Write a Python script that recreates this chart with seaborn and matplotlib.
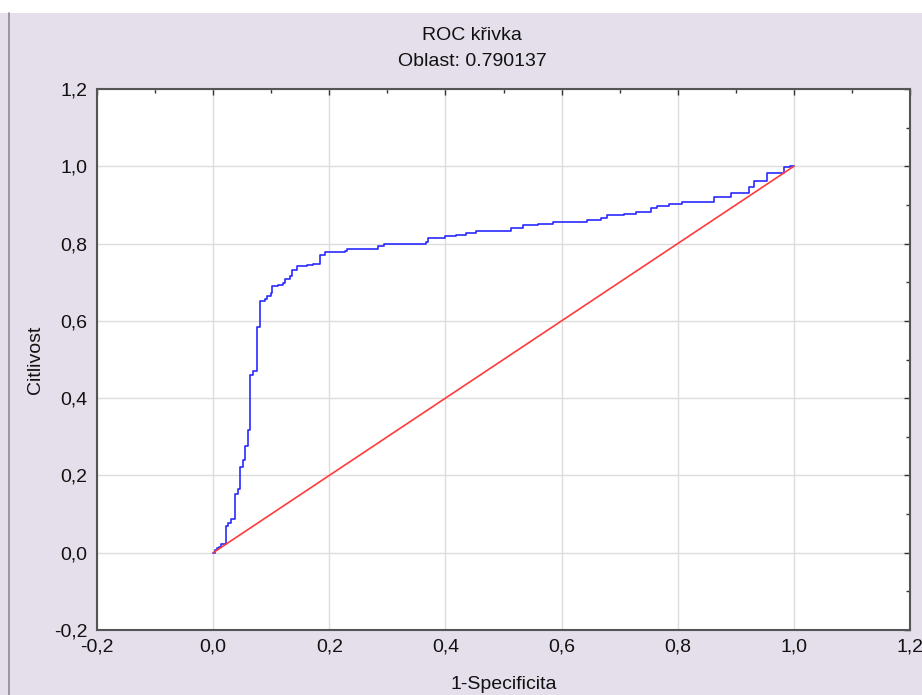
import numpy as np
import pandas as pd
import matplotlib
matplotlib.use("Agg")
import matplotlib.pyplot as plt
from matplotlib.ticker import MultipleLocator, FuncFormatter
import seaborn as sns

# ROC curve vertices (1-specificity, sensitivity)
fpr = [0.0, 0.003, 0.006, 0.010, 0.014, 0.022, 0.026, 0.030, 0.038, 0.042,
       0.046, 0.051, 0.055, 0.060, 0.064, 0.068, 0.076, 0.081, 0.089, 0.093,
       0.100, 0.102, 0.112, 0.121, 0.124, 0.132, 0.136, 0.144, 0.161, 0.172,
       0.184, 0.192, 0.227, 0.230, 0.284, 0.294, 0.367, 0.370, 0.399, 0.418,
       0.436, 0.453, 0.513, 0.533, 0.559, 0.585, 0.643, 0.668, 0.679, 0.708,
       0.728, 0.754, 0.765, 0.785, 0.808, 0.862, 0.891, 0.923, 0.931, 0.954,
       0.983, 0.993, 1.0]
tpr = [0.0, 0.006, 0.012, 0.016, 0.023, 0.068, 0.076, 0.086, 0.152, 0.165,
       0.222, 0.241, 0.276, 0.317, 0.460, 0.471, 0.585, 0.652, 0.656, 0.665,
       0.672, 0.689, 0.694, 0.698, 0.708, 0.717, 0.732, 0.741, 0.745, 0.748,
       0.771, 0.777, 0.780, 0.786, 0.795, 0.800, 0.803, 0.815, 0.819, 0.823,
       0.828, 0.832, 0.841, 0.847, 0.851, 0.855, 0.861, 0.867, 0.873, 0.877,
       0.881, 0.893, 0.897, 0.903, 0.908, 0.920, 0.932, 0.947, 0.962, 0.982,
       0.997, 1.0, 1.0]
ref_x = [0.0, 1.0]
ref_y = [0.0, 1.0]
title_lines = ["ROC křivka", "Oblast: 0.790137"]

sns.set_style("whitegrid")
plt.rcParams['font.family'] = ['Liberation Sans', 'DejaVu Sans']

bg = "#e4dfeb"
fig = plt.figure(figsize=(9.22, 6.95), dpi=100, facecolor=bg)
ax = fig.add_axes([97 / 922, 1 - 630 / 695, 813 / 922, 541 / 695])
ax.set_facecolor("white")

# white strip at top and frame line on the left
fig.patches.append(plt.Rectangle((0, 1 - 13 / 695), 1, 13 / 695, transform=fig.transFigure,
                                 facecolor="white", edgecolor="none", zorder=0))
fig.lines.append(plt.Line2D([9 / 922, 9 / 922], [0, 1 - 13 / 695], transform=fig.transFigure,
                            color="#8a8a8a", lw=1.2))

df = pd.DataFrame({"fpr": fpr, "tpr": tpr})
sns.lineplot(data=df, x="fpr", y="tpr", sort=False, estimator=None, ax=ax,
             color="#2a2aff", lw=1.2, drawstyle="steps-post", zorder=3)
sns.lineplot(x=ref_x, y=ref_y, sort=False, estimator=None, ax=ax,
             color="#ff3b3b", lw=1.2, zorder=4)

ax.set_xlim(-0.2, 1.2)
ax.set_ylim(-0.2, 1.2)
ax.xaxis.set_major_locator(MultipleLocator(0.2))
ax.yaxis.set_major_locator(MultipleLocator(0.2))
ax.xaxis.set_minor_locator(MultipleLocator(0.1))
ax.yaxis.set_minor_locator(MultipleLocator(0.1))
fmt = FuncFormatter(lambda v, p: ("%.1f" % v).replace(".", ",").replace("-0,0", "0,0"))
ax.xaxis.set_major_formatter(fmt)
ax.yaxis.set_major_formatter(fmt)

ax.grid(True, which="major", color="#dcdcdc", lw=1.0)
ax.grid(False, which="minor")
ax.tick_params(which="both", direction="in", top=True, right=True, color="#333333",
               labelsize=14, labelcolor="#111111")
ax.tick_params(axis="x", which="major", length=4, width=1, pad=6)
ax.tick_params(axis="y", which="major", length=4, width=1, pad=7)
ax.tick_params(which="minor", length=3, width=1)
for s in ax.spines.values():
    s.set_color("#555555")
    s.set_linewidth(1.5)

ax.set_xlabel("1-Specificita", fontsize=14, color="#111111", labelpad=15)
ax.set_ylabel("Citlivost", fontsize=14, color="#111111", labelpad=7)

fig.text(472 / 922, 1 - 36 / 695, title_lines[0], ha="center", va="center", fontsize=14, color="#111111")
fig.text(472 / 922, 1 - 62 / 695, title_lines[1], ha="center", va="center", fontsize=14, color="#111111")

fig.savefig("out.png", dpi=100, facecolor=bg)
